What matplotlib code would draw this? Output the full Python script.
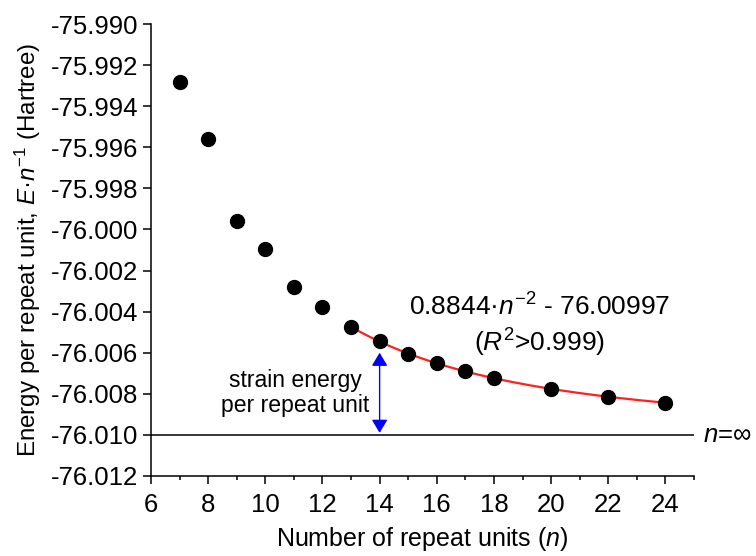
import numpy as np
import matplotlib
matplotlib.use("Agg")
from matplotlib import pyplot as plt
from matplotlib.ticker import MultipleLocator, FormatStrFormatter

plt.rcParams['font.family'] = ['Liberation Sans', 'DejaVu Sans']
plt.rcParams['mathtext.fontset'] = 'custom'
plt.rcParams['mathtext.rm'] = 'Liberation Sans'
plt.rcParams['mathtext.it'] = 'Liberation Sans:italic'
plt.rcParams['axes.unicode_minus'] = False

# repeat units and energy per repeat unit (Hartree)
n_units = [7, 8, 9, 10, 11, 12, 13, 14, 15, 16, 17, 18, 20, 22, 24]
energy = [-75.99282, -75.99562, -75.99957, -76.00095, -76.00280, -76.00376,
          -76.00476, -76.00545, -76.00604, -76.00649, -76.00690, -76.00725,
          -76.00777, -76.00816, -76.00843]

# fit E/n = a*n^-2 + c, drawn over n = 13..24
fit_a = 0.8844
fit_c = -76.00997
fit_range = [13, 24]
e_inf = -76.010

fig = plt.figure(figsize=(7.56, 5.56), dpi=100)
ax = fig.add_axes([0.1997, 0.1439, 0.918 - 0.1997, 0.9568 - 0.1439])

nf = np.linspace(fit_range[0], fit_range[1], 200)
ax.plot(nf, fit_a / nf**2 + fit_c, color='#ff2020', lw=1.6, zorder=2)
ax.plot(n_units, energy, 'o', color='black', ms=10, zorder=3)

ax.axhline(e_inf, color='black', lw=1.1, zorder=1)
ax.text(25.3, e_inf, r'$\mathit{n}$=∞', fontsize=18.5, va='center', ha='left')

ax.annotate('', xy=(14, -76.0060), xytext=(14, -76.0099),
            arrowprops=dict(arrowstyle='<|-|>,head_length=0.5,head_width=0.3',
                            color='blue', lw=1, mutation_scale=16,
                            shrinkA=0, shrinkB=0))
ax.text(11.05, -76.00796, 'strain energy\nper repeat unit', fontsize=16.6,
        ha='center', va='center', linespacing=1.15)

ax.text(19.6, -76.00378, r'0.8844·$\mathit{n}^{-2}$ - 76.00997', fontsize=19,
        ha='center', va='center')
ax.text(19.6, -76.00553, r'($\mathit{R}^{2}$>0.999)', fontsize=19,
        ha='center', va='center')

ax.set_xlim(6, 25)
ax.set_ylim(-76.012, -75.990)
ax.xaxis.set_major_locator(MultipleLocator(2))
ax.xaxis.set_minor_locator(MultipleLocator(1))
ax.yaxis.set_major_locator(MultipleLocator(0.002))
ax.yaxis.set_major_formatter(FormatStrFormatter('%.3f'))

for s in ['top', 'right']:
    ax.spines[s].set_visible(False)
for s in ['left', 'bottom']:
    ax.spines[s].set_linewidth(1.1)
ax.tick_params(which='major', direction='out', length=6, width=1.1, labelsize=18.5)
ax.tick_params(which='minor', direction='out', length=3, width=1.1)
ax.tick_params(axis='y', pad=3)
ax.tick_params(axis='x', pad=6)

ax.set_xlabel(r'Number of repeat units ($\mathit{n}$)', fontsize=18, labelpad=6)
ax.set_ylabel(r'Energy per repeat unit, $\mathit{E}$·$\mathit{n}^{-1}$ (Hartree)',
              fontsize=17.4, labelpad=6)

fig.savefig('out.png', dpi=100)
